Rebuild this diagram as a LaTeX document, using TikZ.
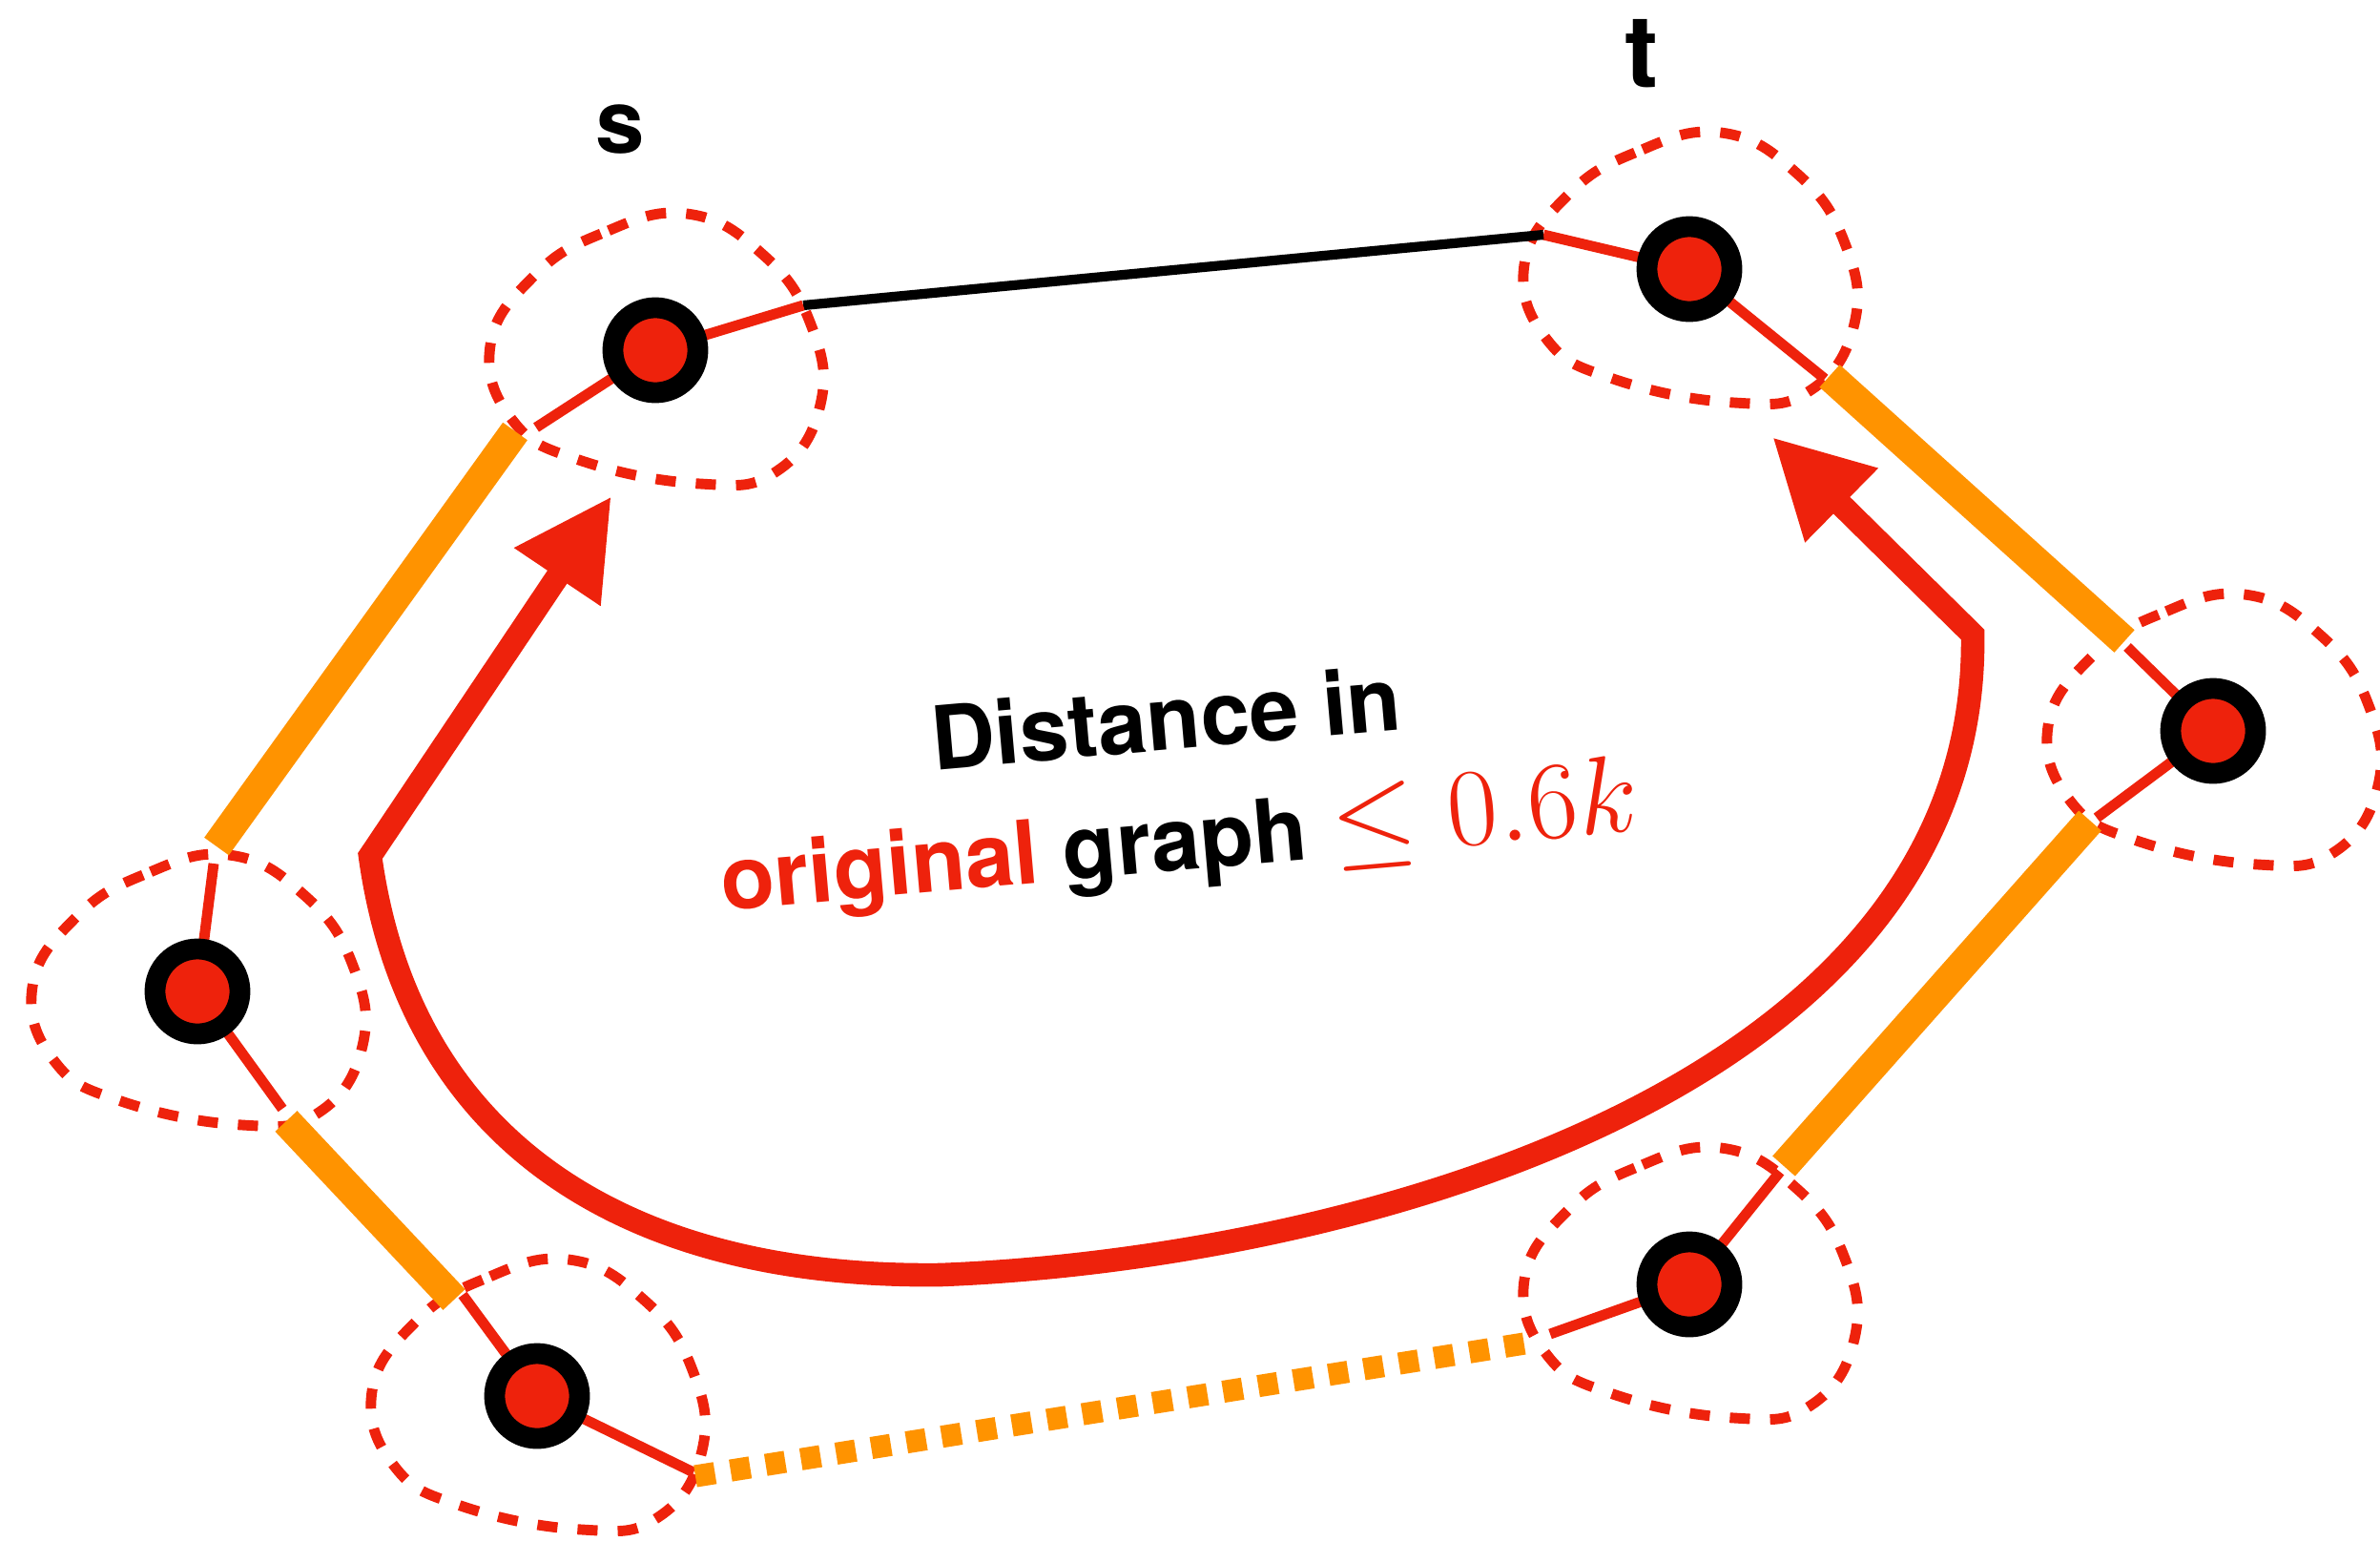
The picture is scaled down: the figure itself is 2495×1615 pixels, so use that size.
\documentclass[tikz,border=0pt]{standalone}
\usepackage{fontspec}
\setmainfont{TeX Gyre Heros}
\usetikzlibrary{arrows.meta,backgrounds}
\definecolor{kred}{RGB}{238,34,12}
\definecolor{korange}{RGB}{255,147,0}
\tikzset{
  vertex/.style={circle, draw=black, fill=kred, line width=6.2pt, minimum size=0.89cm, inner sep=0pt, outer sep=0pt},
  blobline/.style={draw=kred, line width=3.1pt, dash pattern=on 6pt off 6pt},
  thinred/.style={draw=kred, line width=3.1pt},
  thinblack/.style={draw=black, line width=2.9pt},
  orangeband/.style={draw=korange, line width=9pt},
  orangedots/.style={draw=korange, line width=6.6pt, dash pattern=on 5.9pt off 4.72pt},
  bigarrow/.style={draw=kred, line width=7pt, line join=miter, arrows={Triangle[length=29pt,width=29pt]-Triangle[length=29pt,width=29pt]}},
  lbl/.style={font=\fontsize{26.3pt}{32pt}\selectfont\bfseries, anchor=base, inner sep=0pt},
  blob/.pic={\path[blobline] plot[smooth cycle, tension=0.75] coordinates {(33,-143) (-57,-122) (-128,-77) (-173,-5) (-150,73) (-80,115) (47,140) (127,127) (173,57) (163,-27) (113,-100)};}
}
\begin{document}
\begin{tikzpicture}[x=0.01cm,y=-0.01cm]
\useasboundingbox (0,0) rectangle (2495,1615);
% vertices
\node[vertex] (s) at (687,367) {};
\node[vertex] (t) at (1771,282) {};
\node[vertex] (R) at (2320,766) {};
\node[vertex] (L) at (207,1039) {};
\node[vertex] (BL) at (563,1463) {};
\node[vertex] (BR) at (1771,1346) {};
% junction coordinates
\coordinate (a1r) at (562,448); \coordinate (a1) at (540,452); \coordinate (b1) at (227,887); \coordinate (b1r) at (224,905);
\coordinate (a2r) at (296,1162); \coordinate (a2) at (300,1175); \coordinate (b2) at (476,1362); \coordinate (b2r) at (485,1357);
\coordinate (a3r) at (727,1543); \coordinate (a3) at (729,1547); \coordinate (b3) at (1598,1408); \coordinate (b3r) at (1625,1398);
\coordinate (a4r) at (1866,1228); \coordinate (a4) at (1870,1222); \coordinate (b4) at (2191,860); \coordinate (b4r) at (2198,857);
\coordinate (a5r) at (2230,678); \coordinate (a5) at (2227,672); \coordinate (b5) at (1918,394); \coordinate (b5r) at (1913,397);
\coordinate (a6) at (1618,246); \coordinate (b6) at (842,320);
\begin{scope}[on background layer]
  \pic at (s) {blob};
  \pic at (t) {blob};
  \pic at (R) {blob};
  \pic at (L) {blob};
  \pic at (BL) {blob};
  \pic at (BR) {blob};
  % edge s - L
  \draw[thinred] (s) -- (a1r);
  \draw[orangeband] (a1) -- (b1);
  \draw[thinred] (b1r) -- (L);
  % edge L - BL
  \draw[thinred] (L) -- (a2r);
  \draw[orangeband] (a2) -- (b2);
  \draw[thinred] (b2r) -- (BL);
  % edge BL - BR
  \draw[thinred] (BL) -- (a3r);
  \draw[orangedots] (a3) -- (b3);
  \draw[thinred] (b3r) -- (BR);
  % edge BR - R
  \draw[thinred] (BR) -- (a4r);
  \draw[orangeband] (a4) -- (b4);
  \draw[thinred] (b4r) -- (R);
  % edge R - t
  \draw[thinred] (R) -- (a5r);
  \draw[orangeband] (a5) -- (b5);
  \draw[thinred] (b5r) -- (t);
  % edge t - s
  \draw[thinred] (t) -- (a6);
  \draw[thinblack] (a6) -- (b6);
  \draw[thinred] (b6) -- (s);
\end{scope}
% big arrow
\coordinate (tipL) at (641,520);
\coordinate (cL) at (388,897);
\coordinate (cR) at (2068,665);
\coordinate (tipR) at (1858,458);
\draw[bigarrow] (tipL) -- (cL) .. controls (430,1200) and (660,1340) .. (986,1336) .. controls (1400,1320) and (2075,1150) .. (cR) -- (tipR);
% labels
\node[lbl] (slabel) at (650,160) {s};
\node[lbl, font=\fontsize{30pt}{34pt}\selectfont\bfseries] (tlabel) at (1721,91) {t};
\node[lbl, rotate=5] (line1) at (1225,786) {Distance in};
\node[lbl, rotate=5] (line2) at (1239,912) {\textcolor{kred}{original} graph \textcolor{kred}{\scalebox{1.32}{$\leq 0.6k$}}};
\end{tikzpicture}
\end{document}
